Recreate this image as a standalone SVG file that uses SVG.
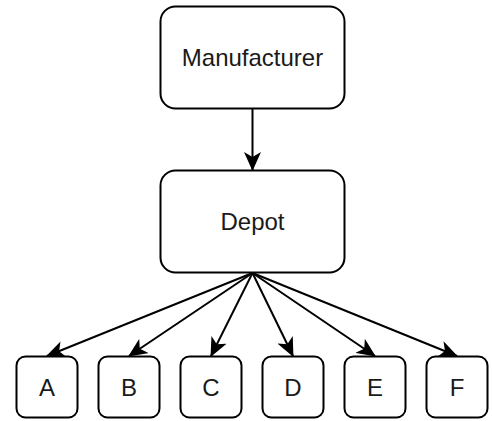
<svg xmlns="http://www.w3.org/2000/svg" width="492" height="421" viewBox="0 0 492 421">
<style>
.box{fill:#fff;stroke:#000;stroke-width:2}
.lbl{font-family:"Liberation Sans",Arial,sans-serif;font-size:24px;fill:#1a1a1a;text-anchor:middle}
.edge{stroke:#000;stroke-width:2;fill:none}
</style>
<defs>
<marker id="arr" viewBox="0 0 19 17" refX="18" refY="8.5" markerWidth="19" markerHeight="17" markerUnits="userSpaceOnUse" orient="auto">
<path d="M19,8.5 L0,0 L5,8.5 L0,17 Z" fill="#000"/>
</marker>
</defs>
<g id="connectors">
<line class="edge" x1="252.5" y1="108.5" x2="252.5" y2="170" marker-end="url(#arr)"/>
<line class="edge" x1="252.5" y1="273" x2="47" y2="356" marker-end="url(#arr)"/>
<line class="edge" x1="252.5" y1="273" x2="129" y2="356" marker-end="url(#arr)"/>
<line class="edge" x1="252.5" y1="273" x2="211" y2="356" marker-end="url(#arr)"/>
<line class="edge" x1="252.5" y1="273" x2="293" y2="356" marker-end="url(#arr)"/>
<line class="edge" x1="252.5" y1="273" x2="375" y2="356" marker-end="url(#arr)"/>
<line class="edge" x1="252.5" y1="273" x2="457" y2="356" marker-end="url(#arr)"/>
</g>
<g id="manufacturer">
<rect class="box" x="160.5" y="6.5" width="184" height="102" rx="15" ry="15"/>
<text class="lbl" x="252.5" y="65.5">Manufacturer</text>
</g>
<g id="depot">
<rect class="box" x="160.5" y="170.5" width="184" height="102" rx="15" ry="15"/>
<text class="lbl" x="252.5" y="229.5">Depot</text>
</g>
<g id="A">
<rect class="box" x="16.5" y="356.5" width="61" height="61" rx="9" ry="9"/>
<text class="lbl" x="47" y="395.5">A</text>
</g>
<g id="B">
<rect class="box" x="98.5" y="356.5" width="61" height="61" rx="9" ry="9"/>
<text class="lbl" x="129" y="395.5">B</text>
</g>
<g id="C">
<rect class="box" x="180.5" y="356.5" width="61" height="61" rx="9" ry="9"/>
<text class="lbl" x="211" y="395.5">C</text>
</g>
<g id="D">
<rect class="box" x="262.5" y="356.5" width="61" height="61" rx="9" ry="9"/>
<text class="lbl" x="293" y="395.5">D</text>
</g>
<g id="E">
<rect class="box" x="344.5" y="356.5" width="61" height="61" rx="9" ry="9"/>
<text class="lbl" x="375" y="395.5">E</text>
</g>
<g id="F">
<rect class="box" x="426.5" y="356.5" width="61" height="61" rx="9" ry="9"/>
<text class="lbl" x="457" y="395.5">F</text>
</g>
</svg>
